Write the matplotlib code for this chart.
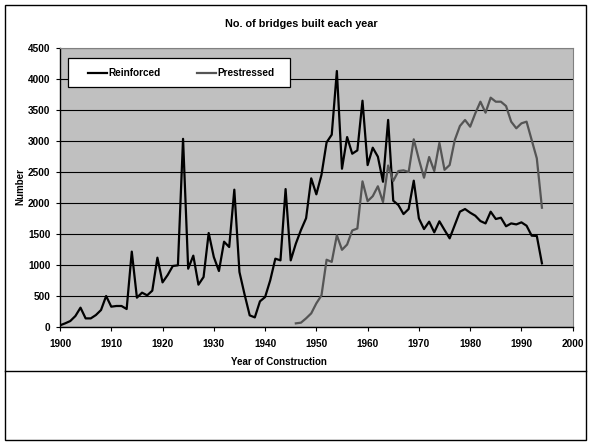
import numpy as np
import matplotlib
matplotlib.use("Agg")
from matplotlib import pyplot as plt
from matplotlib.lines import Line2D

plt.rcParams['font.family'] = ['Liberation Sans', 'DejaVu Sans']
plt.rcParams['font.weight'] = 'bold'

# data
years_reinforced = list(range(1900, 1995))
reinforced = [22, 54, 91, 172, 307, 134, 134, 188, 269, 495,
              323, 334, 334, 285, 1211, 468, 549, 506, 581, 1113,
              715, 834, 979, 990, 3030, 936, 1146, 678, 801, 1511,
              1124, 898, 1371, 1285, 2210, 882, 520, 183, 150, 409,
              478, 747, 1097, 1070, 2220, 1070, 1340, 1560, 1750, 2393,
              2135, 2450, 2973, 3097, 4124, 2548, 3059, 2790, 2844, 3645,
              2607, 2887, 2742, 2338, 3335, 2032, 1962, 1817, 1898, 2355,
              1747, 1575, 1694, 1522, 1700, 1560, 1425, 1640, 1855, 1898,
              1839, 1790, 1704, 1666, 1855, 1737, 1758, 1620, 1666, 1650,
              1683, 1629, 1468, 1463, 1022]

years_prestressed = list(range(1946, 1995))
prestressed = [54, 65, 135, 215, 377, 505, 1080, 1045, 1475, 1240,
               1325, 1552, 1584, 2344, 2025, 2105, 2265, 2010, 2600, 2350,
               2511, 2522, 2495, 3022, 2699, 2403, 2737, 2511, 2965, 2530,
               2608, 3011, 3237, 3334, 3226, 3441, 3629, 3452, 3694, 3629,
               3629, 3559, 3307, 3200, 3280, 3307, 3011, 2715, 1919]

series_names = ['Reinforced', 'Prestressed']
series_colors = ['black', '#555555']

x_ticks = list(range(1900, 2001, 10))
y_ticks = list(range(0, 4501, 500))

W, H = 591, 443
fig = plt.figure(figsize=(W / 100, H / 100), dpi=100)
fig.patch.set_facecolor('white')

ax = fig.add_axes([60 / W, 1 - 326.7 / H, 512.7 / W, 279 / H])
ax.set_facecolor('#c0c0c0')

ax.plot(years_reinforced, reinforced, color=series_colors[0], lw=1.6, zorder=3)
ax.plot(years_prestressed, prestressed, color=series_colors[1], lw=1.6, zorder=3)

ax.set_xlim(1900, 2000)
ax.set_ylim(0, 4500)
ax.set_xticks(x_ticks)
ax.set_yticks(y_ticks)
ax.grid(axis='y', color='black', lw=0.8)
ax.set_axisbelow(True)
ax.tick_params(labelsize=7.2, length=3, width=0.8, direction='out')
ax.tick_params(axis='x', pad=6)
ax.tick_params(axis='y', pad=4)

for s in ['top', 'right']:
    ax.spines[s].set_color('#808080')
for s in ['left', 'bottom']:
    ax.spines[s].set_color('black')
    ax.spines[s].set_linewidth(1.0)

# legend box drawn in pixel positions of the reference
def px(x, y):
    return x / W, 1 - y / H

box = plt.Rectangle(px(68, 87), 222 / W, 29 / H, transform=fig.transFigure,
                    facecolor='white', edgecolor='black', lw=0.9, zorder=5)
fig.add_artist(box)
for (x0, name, col) in zip([88, 197], series_names, series_colors):
    fig.add_artist(Line2D([x0 / W, (x0 + 19) / W], [1 - 72.5 / H] * 2, transform=fig.transFigure,
                          color=col, lw=1.6, zorder=6))
    fig.text((x0 + 20) / W, 1 - 72.5 / H, name, ha='left', va='center', fontsize=7.2,
             fontweight='bold', zorder=6)

fig.text(301 / W, 1 - 24 / H, 'No. of bridges built each year', ha='center', va='center',
         fontsize=7.8, fontweight='bold')
fig.text(20 / W, 1 - 187 / H, 'Number', ha='center', va='center', rotation=90,
         fontsize=7, fontweight='bold')
fig.text(279 / W, 1 - 362 / H, 'Year of Construction', ha='center', va='center',
         fontsize=7, fontweight='bold')

# outer frame and the separator under the chart
frame = plt.Rectangle(px(5, 440), 581 / W, 435 / H, transform=fig.transFigure,
                      fill=False, edgecolor='black', lw=1.0)
fig.add_artist(frame)
fig.add_artist(Line2D([5 / W, 586 / W], [1 - 371 / H, 1 - 371 / H], transform=fig.transFigure,
                      color='black', lw=1.0))

fig.savefig('out.png', dpi=100)
